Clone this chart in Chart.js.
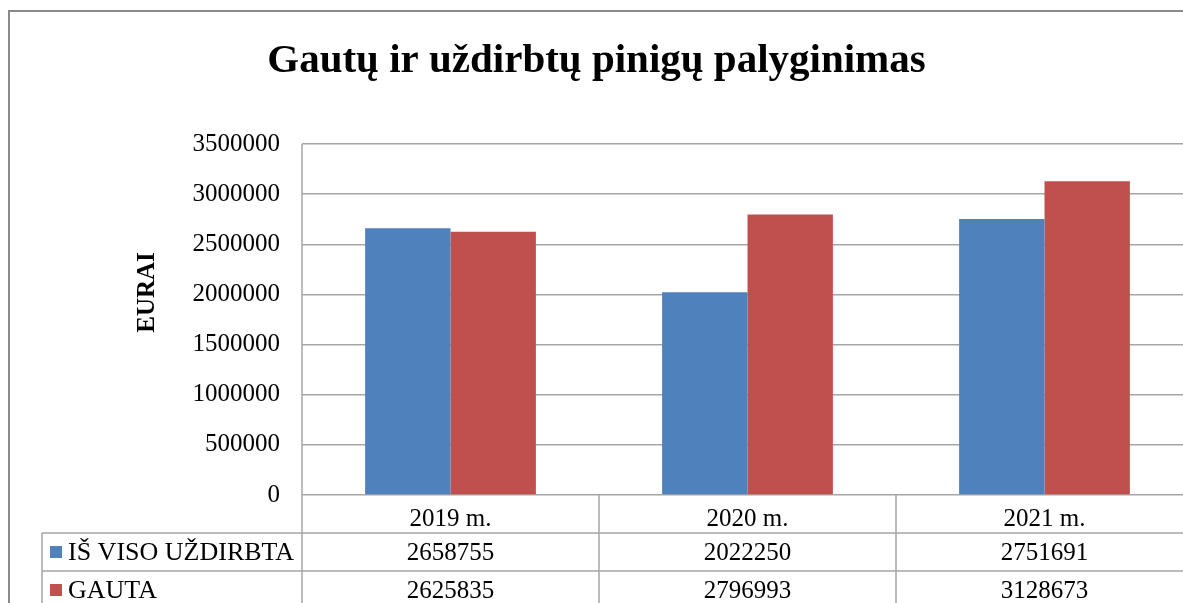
<!DOCTYPE html>
<html>
<head>
<meta charset="utf-8">
<script src="https://cdn.jsdelivr.net/npm/chart.js@4/dist/chart.umd.min.js"></script>
<style>
  html, body { margin: 0; padding: 0; overflow: hidden; background: #fff; }
  #wrap { width: 1200px; height: 620px; position: relative; }
</style>
</head>
<body>
<div id="wrap"><canvas id="chart"></canvas></div>
<script>
// chart data
const chartTitle = 'Gautų ir uždirbtų pinigų palyginimas';
const yTitle = 'EURAI';
const categories = ['2019 m.', '2020 m.', '2021 m.'];
const seriesNames = ['IŠ VISO UŽDIRBTA', 'GAUTA'];
const earned = [2658755, 2022250, 2751691];
const received = [2625835, 2796993, 3128673];
const yMax = 3500000;
const yStep = 500000;

const colors = ['#4F81BD', '#C0504D'];
const serif = 'Liberation Serif';
const rowH = 38;

// frame, y title and data table (Excel style)
const tablePlugin = {
  id: 'tablePlugin',
  beforeDraw(chart) {
    const ctx = chart.ctx;
    ctx.save();
    ctx.fillStyle = '#fff';
    ctx.fillRect(0, 0, chart.width, chart.height);
    ctx.strokeStyle = '#8a8a8a';
    ctx.lineWidth = 2;
    ctx.strokeRect(9, 11, chart.width + 20, chart.height + 20);
    ctx.restore();
  },
  afterDraw(chart) {
    const ctx = chart.ctx;
    const area = chart.chartArea;
    const x = chart.scales.x;
    const colW = x.width / categories.length;
    const rows = [earned, received];
    const tableLeft = 42;
    ctx.save();
    ctx.strokeStyle = '#a6a6a6';
    ctx.lineWidth = 1.5;
    // vertical lines
    ctx.beginPath();
    ctx.moveTo(area.left, area.top);
    ctx.lineTo(area.left, chart.height);
    for (let i = 1; i <= categories.length; i++) {
      const px = Math.round(area.left + i * colW);
      ctx.moveTo(px, area.bottom);
      ctx.lineTo(px, chart.height);
    }
    ctx.moveTo(tableLeft, area.bottom + rowH);
    ctx.lineTo(tableLeft, chart.height);
    // horizontal lines
    for (let r = 1; r <= rows.length; r++) {
      const py = Math.round(area.bottom + r * rowH);
      ctx.moveTo(tableLeft, py);
      ctx.lineTo(area.right, py);
    }
    ctx.stroke();

    // row contents
    ctx.textBaseline = 'middle';
    rows.forEach((vals, r) => {
      const cy = area.bottom + r * rowH + rowH * 1.5 + 1;
      ctx.fillStyle = colors[r];
      ctx.fillRect(50, cy - 7, 12, 12);
      ctx.fillStyle = '#000';
      ctx.font = '26px "' + serif + '"';
      ctx.textAlign = 'left';
      ctx.fillText(seriesNames[r], 68, cy);
      ctx.font = '25px "' + serif + '"';
      ctx.textAlign = 'center';
      vals.forEach((v, i) => {
        ctx.fillText(String(v), x.getPixelForValue(i), cy);
      });
    });

    // y axis title
    ctx.translate(148, (area.top + area.bottom) / 2 - 27);
    ctx.rotate(-Math.PI / 2);
    ctx.font = 'bold 25px "' + serif + '"';
    ctx.textAlign = 'center';
    ctx.fillStyle = '#000';
    ctx.fillText(yTitle, 0, 0);
    ctx.restore();
  }
};

new Chart(document.getElementById('chart'), {
  type: 'bar',
  data: {
    labels: categories,
    datasets: [
      { label: seriesNames[0], data: earned, backgroundColor: colors[0] },
      { label: seriesNames[1], data: received, backgroundColor: colors[1] }
    ]
  },
  options: {
    animation: false,
    responsive: true,
    maintainAspectRatio: false,
    layout: { padding: { left: 0, right: 7, top: 0, bottom: 11 } },
    datasets: { bar: { categoryPercentage: 0.575, barPercentage: 1.0 } },
    plugins: {
      legend: { display: false },
      tooltip: { enabled: false },
      title: {
        display: true,
        text: chartTitle,
        color: '#000',
        font: { family: serif, size: 41, weight: 'bold', lineHeight: 1.2 },
        padding: { top: 37, bottom: 57.8 }
      }
    },
    scales: {
      x: {
        grid: { display: false },
        border: { display: false },
        ticks: { color: '#000', font: { family: serif, size: 25 }, padding: 1 },
        afterFit: (s) => { s.height = 114; }
      },
      y: {
        min: 0,
        max: yMax,
        border: { display: false },
        grid: { color: '#a6a6a6', lineWidth: 1.5, drawTicks: false },
        ticks: {
          stepSize: yStep,
          color: '#000',
          padding: 22,
          font: { family: serif, size: 25 },
          callback: (v) => String(v)
        },
        afterFit: (s) => { s.width = 302; }
      }
    }
  },
  plugins: [tablePlugin]
});
</script>
</body>
</html>
